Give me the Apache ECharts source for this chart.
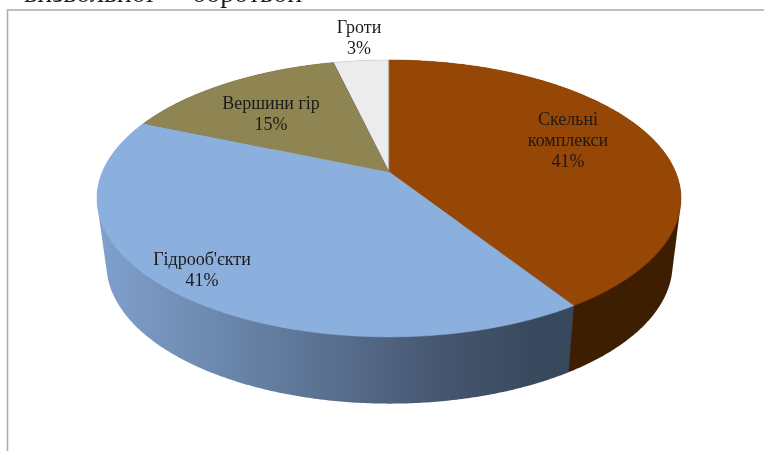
<!DOCTYPE html>
<html><head><meta charset="utf-8">
<style>html,body{margin:0;padding:0;background:#fff}#c{width:764px;height:451px}</style>
<script src="https://cdn.jsdelivr.net/npm/echarts@6/dist/echarts.min.js"></script>
</head><body><div id="c"></div>
<script>
const categories = ['Скельні\nкомплекси', 'Гідрооб\'єкти', 'Вершини гір', 'Гроти'];
const shares = [40.9, 40.5, 14.9, 3.7];
const percentLabels = ['41%', '41%', '15%', '3%'];
const topColors = ['#964605', '#8cb0de', '#8f8553', '#ececec'];
const sideColors = ['#3e1e00', null, '#4a4428', '#999999'];
const labelCenters = [[568, 110], [202, 250], [271, 94], [359, 18]];

const FONT = '"Liberation Serif", serif';
const topRing = {cx: 389, cy: 172, A: 286.6, B: 133.4, k: 0.191};
const baseRing = {cx: 389.5, cy: 238, A: 277.8, B: 134, k: 0.191};

function project(r, deg) {
  const t = deg * Math.PI / 180, X = Math.sin(t), Y = -Math.cos(t), w = 1 - r.k * Y;
  return [r.cx + r.A * X / w, r.cy + r.B * Y / w];
}
const total = shares.reduce((a, b) => a + b, 0);
function sliceAngles(i) {
  let s = 0;
  for (let j = 0; j < i; j++) s += shares[j];
  return [s / total * 360, (s + shares[i]) / total * 360];
}
function sliceFill(i) {
  if (sideColors[i]) return sideColors[i];
  return new echarts.graphic.LinearGradient(103, 0, 572, 0, [
    {offset: 0, color: '#7f9fcc'},
    {offset: 0.41, color: '#5f7899'},
    {offset: 0.72, color: '#465670'},
    {offset: 0.9, color: '#3a4a5e'},
    {offset: 1, color: '#38485c'}
  ], true);
}
function hull(points) {
  const p = points.slice().sort((a, b) => a[0] - b[0] || a[1] - b[1]);
  const cross = (o, a, b) => (a[0] - o[0]) * (b[1] - o[1]) - (a[1] - o[1]) * (b[0] - o[0]);
  const half = list => {
    const h = [];
    for (const q of list) {
      while (h.length >= 2 && cross(h[h.length - 2], h[h.length - 1], q) <= 0) h.pop();
      h.push(q);
    }
    h.pop();
    return h;
  };
  return half(p).concat(half(p.slice().reverse()));
}
function renderWall(params) {
  const i = params.dataIndex, [a0, a1] = sliceAngles(i), pts = [];
  const n = Math.ceil((a1 - a0) * 2);
  for (let q = 0; q <= n; q++) {
    const d = a0 + (a1 - a0) * q / n;
    pts.push(project(topRing, d), project(baseRing, d));
  }
  return {type: 'polygon', shape: {points: hull(pts)}, style: {fill: sliceFill(i)}};
}
function renderTop(params) {
  const i = params.dataIndex, [a0, a1] = sliceAngles(i), pts = [[topRing.cx, topRing.cy]];
  const n = Math.ceil((a1 - a0) * 2);
  for (let q = 0; q <= n; q++) pts.push(project(topRing, a0 + (a1 - a0) * q / n));
  const [lx, ly] = labelCenters[i];
  const isGrey = i === shares.length - 1;
  const children = [
    {type: 'polygon', z2: 1, shape: {points: pts},
     style: {fill: topColors[i], stroke: isGrey ? '#c9c9c9' : topColors[i], lineWidth: 0.5}},
    {type: 'text', z2: 5, style: {x: lx, y: ly, text: categories[i] + '\n' + percentLabels[i],
      fill: '#1c1a18', font: '18px ' + FONT, align: 'center', verticalAlign: 'top', lineHeight: 21}}
  ];
  if (isGrey) children.push({type: 'polyline', z2: 2,
    shape: {points: [pts[1], pts[0], pts[pts.length - 1]]},
    style: {fill: 'none', stroke: '#5a5540', lineWidth: 0.7}});
  return {type: 'group', children};
}
const seriesData = categories.map((c, i) => ({name: c, value: shares[i]}));
const chart = echarts.init(document.getElementById('c'), null, {renderer: 'canvas'});
chart.setOption({
  animation: false,
  backgroundColor: '#fff',
  tooltip: {show: false},
  graphic: [
    {type: 'text', z: 10, style: {x: 24, y: 9, text: 'визвольної', fill: '#1a1a1a', font: '28px ' + FONT, verticalAlign: 'bottom'}},
    {type: 'text', z: 10, style: {x: 192, y: 9, text: 'боротьби', fill: '#1a1a1a', font: '28px ' + FONT, verticalAlign: 'bottom'}},
    {type: 'polyline', z: 12, shape: {points: [[7.5, 451], [7.5, 10], [764, 10]]}, style: {fill: 'none', stroke: '#ababab', lineWidth: 1.5}}
  ],
  series: [
    {type: 'custom', coordinateSystem: 'none', silent: true, z: 1, renderItem: renderWall, data: seriesData},
    {type: 'custom', coordinateSystem: 'none', silent: true, z: 2, renderItem: renderTop, data: seriesData}
  ]
});
</script></body></html>
